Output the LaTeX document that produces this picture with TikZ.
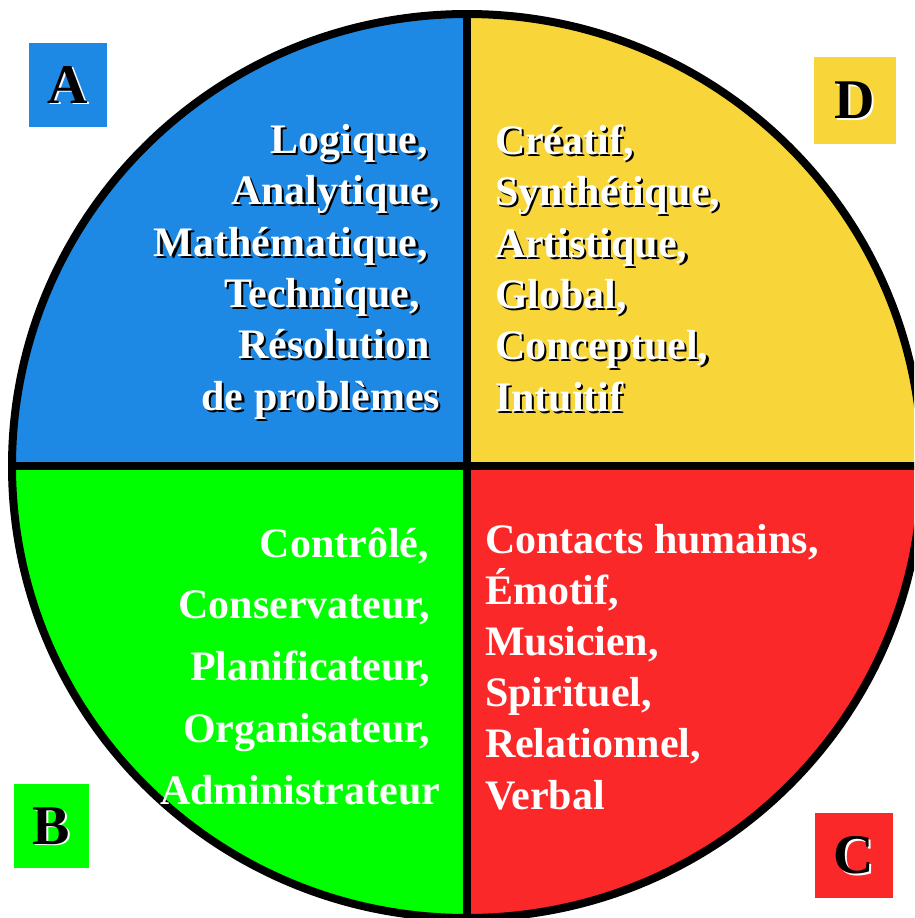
\documentclass[tikz,border=0pt]{standalone}
\usepackage{fontspec}
\setmainfont{Liberation Serif}

\definecolor{qblue}{HTML}{1E88E5}
\definecolor{qyellow}{HTML}{F8D63A}
\definecolor{qgreen}{HTML}{00FF00}
\definecolor{qred}{HTML}{FA2828}

\tikzset{
  word/.style={font=\fontsize{42}{51}\selectfont\bfseries, text=white, inner sep=0pt, outer sep=0pt},
  wordshadow/.style={word, text=black},
  letter/.style={font=\fontsize{56}{60}\selectfont\bfseries, text=black, inner sep=0pt},
  lettershadow/.style={letter, text=white},
  tagbox/.style={inner sep=0pt, outer sep=0pt},
  rim/.style={line width=8pt, draw=black},
}

% white word with a black drop shadow: name, anchor, x, y, text
\newcommand{\shadowword}[5]{%
  \node[wordshadow, anchor=#2] (#1-sh) at (#3+2.2,#4+2.2) {#5};
  \node[word, anchor=#2] (#1) at (#3,#4) {#5};
}
% plain white word: name, anchor, x, y, text
\newcommand{\plainword}[5]{%
  \node[word, anchor=#2] (#1) at (#3,#4) {#5};
}
% coloured square holding a black letter with a white shadow
\newcommand{\tagsquare}[7]{% name, colour, x1, y1, x2, y2, letter
  \fill[#2] (#3,#4) rectangle (#5,#6);
  \node[lettershadow] (#1-sh) at ({(#3+#5)/2+1.5},{(#4+#6)/2+1.5}) {#7};
  \node[letter] (#1) at ({(#3+#5)/2},{(#4+#6)/2}) {#7};
}

\begin{document}
\begin{tikzpicture}[x=1pt, y=-1pt]
  \useasboundingbox (0,0) rectangle (914,918);
  \clip (0,0) rectangle (914,918);
  \fill[white] (0,0) rectangle (914,918);

  % the four quadrants of the disc
  \begin{scope}
    \clip (467,466) ellipse [x radius=455, y radius=452];
    \fill[qblue]   (0,0)     rectangle (467,466);
    \fill[qyellow] (467,0)   rectangle (940,466);
    \fill[qgreen]  (0,466)   rectangle (467,940);
    \fill[qred]    (467,466) rectangle (940,940);
  \end{scope}

  % outline and cross dividers
  \draw[rim] (467,466) ellipse [x radius=455, y radius=452];
  \draw[rim] (467,14) -- (467,918);
  \draw[rim] (12,466) -- (922,466);

  % corner tags
  \tagsquare{tagA}{qblue}{29}{43}{107}{127}{A}
  \tagsquare{tagD}{qyellow}{814}{57}{896}{144}{D}
  \tagsquare{tagB}{qgreen}{14}{784}{89}{868}{B}
  \tagsquare{tagC}{qred}{815}{813}{893}{898}{C}

  % quadrant A
  \shadowword{a1}{base east}{428}{153}{Logique,}
  \shadowword{a2}{base east}{440}{204}{Analytique,}
  \shadowword{a3}{base east}{428}{256}{Mathématique,}
  \shadowword{a4}{base east}{420}{307}{Technique,}
  \shadowword{a5}{base east}{430}{358}{Résolution}
  \shadowword{a6}{base east}{440}{410}{de problèmes}

  % quadrant D
  \shadowword{d1}{base west}{495}{154}{Créatif,}
  \shadowword{d2}{base west}{495}{205}{Synthétique,}
  \shadowword{d3}{base west}{495}{257}{Artistique,}
  \shadowword{d4}{base west}{495}{308}{Global,}
  \shadowword{d5}{base west}{495}{359}{Conceptuel,}
  \shadowword{d6}{base west}{495}{411}{Intuitif}

  % quadrant B
  \plainword{b1}{base east}{429}{557}{Contrôlé,}
  \plainword{b2}{base east}{430}{618}{Conservateur,}
  \plainword{b3}{base east}{430}{680}{Planificateur,}
  \plainword{b4}{base east}{430}{742}{Organisateur,}
  \plainword{b5}{base east}{440}{804}{Administrateur}

  % quadrant C
  \plainword{c1}{base west}{485}{553}{Contacts humains,}
  \plainword{c2}{base west}{485}{604}{Émotif,}
  \plainword{c3}{base west}{485}{655}{Musicien,}
  \plainword{c4}{base west}{485}{706}{Spirituel,}
  \plainword{c5}{base west}{485}{757}{Relationnel,}
  \plainword{c6}{base west}{485}{809}{Verbal}
\end{tikzpicture}
\end{document}
